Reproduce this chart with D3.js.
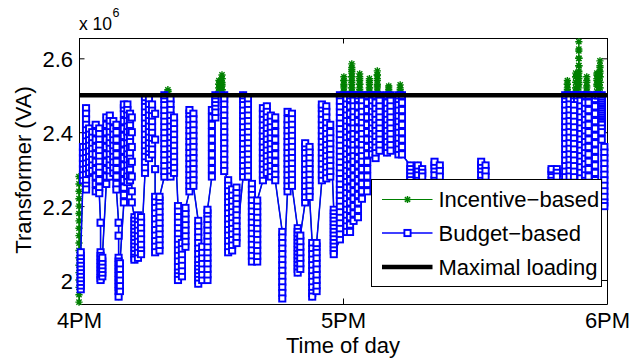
<!DOCTYPE html>
<html>
<head>
<meta charset="utf-8">
<script src="https://cdn.jsdelivr.net/npm/d3@7"></script>
<style>
  body { margin: 0; background: #fff; }
  text { font-family: "Liberation Sans", Arial, Helvetica, sans-serif; fill: #000; }
</style>
</head>
<body>
<div id="chart"></div>
<script>
// time in minutes after 4PM, load in units of 1e6 VA
// budget-based: [time, [values in drawing order]]
var budgetCols = [
  [0.4, [1.975, 1.985, 1.995, 2.005, 2.015, 2.025, 2.035, 2.045, 2.055, 2.065, 2.075]],
  [0.9, [2.27, 2.285, 2.30, 2.315, 2.33, 2.345, 2.36]],
  [1.6, [2.465, 2.45, 2.435, 2.42, 2.405, 2.39, 2.375, 2.36, 2.345, 2.33, 2.315, 2.30, 2.285, 2.27, 2.255, 2.245]],
  [2.3, [2.29, 2.305, 2.32, 2.335, 2.35, 2.365, 2.38, 2.395, 2.41]],
  [3.0, [2.40, 2.385, 2.37, 2.355, 2.34, 2.325, 2.31, 2.295]],
  [3.8, [2.24, 2.26, 2.28, 2.30, 2.32, 2.34, 2.36, 2.38, 2.40, 2.42]],
  [4.6, [2.41, 2.395, 2.38, 2.365, 2.35, 2.335, 2.32, 2.305, 2.29, 2.27, 2.25, 2.235]],
  [4.9, [2.155, 2.075, 2.065, 2.055, 2.045, 2.035, 2.025, 2.015, 2.005, 2.0]],
  [5.3, [2.01, 2.02, 2.03, 2.04, 2.05, 2.06]],
  [6.2, [2.26, 2.28, 2.30, 2.32, 2.34, 2.36, 2.38, 2.40, 2.42, 2.44]],
  [7.0, [2.445, 2.43, 2.415, 2.40, 2.385, 2.37, 2.355, 2.34, 2.325, 2.31, 2.295, 2.28]],
  [7.8, [2.29, 2.305, 2.32, 2.335, 2.35, 2.365, 2.38, 2.395, 2.41, 2.43]],
  [8.5, [2.42, 2.40, 2.38, 2.36, 2.34, 2.32, 2.30, 2.28, 2.26, 2.245]],
  [9.0, [2.155, 2.12, 2.06, 2.05, 2.04, 2.03, 2.02, 2.01, 2.0, 1.99, 1.98, 1.97, 1.955]],
  [9.3, [1.97, 1.985, 2.0, 2.015, 2.03, 2.045]],
  [10.2, [2.21, 2.23, 2.25, 2.27, 2.29, 2.31, 2.33, 2.35, 2.37, 2.39, 2.41, 2.43, 2.45, 2.465, 2.475]],
  [11.0, [2.475, 2.46, 2.445, 2.43, 2.415, 2.40, 2.385, 2.37, 2.355, 2.34, 2.325, 2.31, 2.295, 2.28, 2.265]],
  [11.6, [2.27, 2.285, 2.30, 2.315, 2.33, 2.345, 2.36, 2.375, 2.39, 2.405, 2.42, 2.435, 2.45]],
  [12.0, [2.44, 2.40, 2.36, 2.32, 2.28, 2.24, 2.21]],
  [12.6, [2.17, 2.16, 2.15, 2.14, 2.13, 2.12, 2.11, 2.10, 2.09, 2.08, 2.07, 2.06, 2.055]],
  [13.4, [2.06, 2.075, 2.09, 2.105, 2.12, 2.135, 2.15, 2.165, 2.175]],
  [14.1, [2.17, 2.155, 2.14, 2.125, 2.11, 2.095, 2.08, 2.07]],
  [15.0, [2.29, 2.305, 2.32, 2.335, 2.35, 2.365, 2.38, 2.395, 2.41, 2.425, 2.44, 2.455, 2.47, 2.485, 2.495]],
  [15.9, [2.49, 2.475, 2.46, 2.445, 2.43, 2.415, 2.40, 2.385, 2.37, 2.355, 2.34, 2.33]],
  [16.6, [2.34, 2.355, 2.37, 2.385, 2.40, 2.415, 2.43, 2.445, 2.46, 2.475]],
  [17.3, [2.45, 2.38, 2.30, 2.225, 2.21, 2.195, 2.18, 2.165, 2.15, 2.135, 2.12, 2.105, 2.09, 2.075]],
  [18.3, [2.08, 2.095, 2.11, 2.125, 2.14, 2.155, 2.17, 2.185, 2.20, 2.215, 2.225]],
  [19.4, [2.28, 2.295, 2.31, 2.325, 2.34, 2.355, 2.37, 2.385, 2.40, 2.415, 2.43, 2.445, 2.46, 2.475, 2.49, 2.50]],
  [20.8, [2.49, 2.475, 2.46, 2.445, 2.43, 2.415, 2.40, 2.385, 2.37, 2.355, 2.34, 2.325, 2.31, 2.295, 2.28]],
  [21.6, [2.29, 2.305, 2.32, 2.335, 2.35, 2.365, 2.38, 2.395, 2.41, 2.425, 2.44]],
  [22.5, [2.20, 2.185, 2.17, 2.155, 2.14, 2.125, 2.11, 2.095, 2.08, 2.065, 2.05, 2.035, 2.02, 2.01, 2.0]],
  [23.4, [2.01, 2.025, 2.04, 2.055, 2.07, 2.085, 2.10]],
  [24.2, [2.09, 2.105, 2.12, 2.135, 2.15, 2.165, 2.18, 2.195]],
  [25.1, [2.24, 2.255, 2.27, 2.285, 2.30, 2.315, 2.33, 2.345, 2.36, 2.375, 2.39, 2.405, 2.42, 2.435, 2.45, 2.46]],
  [26.0, [2.45, 2.435, 2.42, 2.405, 2.39, 2.375, 2.36, 2.345, 2.33, 2.315, 2.30, 2.285, 2.27, 2.255]],
  [27.1, [2.16, 2.145, 2.13, 2.115, 2.10, 2.085, 2.07, 2.055, 2.04, 2.03, 2.02, 2.01, 2.0, 1.99]],
  [28.0, [2.0, 2.015, 2.03, 2.045, 2.06, 2.075, 2.09]],
  [29.2, [2.0, 2.015, 2.03, 2.045, 2.06, 2.075, 2.09, 2.105, 2.12, 2.135, 2.15, 2.165, 2.18, 2.19]],
  [30.2, [2.28, 2.30, 2.32, 2.34, 2.36, 2.38, 2.40, 2.42, 2.44, 2.46]],
  [31.0, [2.44, 2.455, 2.47, 2.48, 2.49, 2.50]],
  [33.0, [2.50, 2.49, 2.475, 2.46, 2.445, 2.43, 2.415, 2.40, 2.385, 2.37, 2.355, 2.34, 2.325, 2.31, 2.295]],
  [33.9, [2.27, 2.255, 2.24, 2.225, 2.21, 2.195, 2.18, 2.165, 2.15, 2.135, 2.12, 2.105, 2.09, 2.075]],
  [34.8, [2.08, 2.095, 2.11, 2.125, 2.14, 2.155, 2.17, 2.185, 2.20, 2.215, 2.23, 2.245]],
  [35.8, [2.25, 2.235, 2.22, 2.205, 2.19, 2.175, 2.16, 2.145, 2.13, 2.115, 2.10]],
  [37.3, [2.28, 2.295, 2.31, 2.325, 2.34, 2.355, 2.37, 2.385, 2.40, 2.415, 2.43, 2.445, 2.46, 2.475, 2.49, 2.50]],
  [38.4, [2.49, 2.475, 2.46, 2.445, 2.43, 2.415, 2.40, 2.385, 2.37, 2.355, 2.34, 2.325, 2.31, 2.295, 2.28]],
  [39.3, [2.26, 2.245, 2.23, 2.215, 2.20, 2.185, 2.17, 2.155, 2.14, 2.125, 2.11, 2.095, 2.08, 2.065, 2.05]],
  [40.5, [2.05, 2.065, 2.08, 2.095, 2.11, 2.125, 2.14, 2.155, 2.17, 2.185, 2.20, 2.215]],
  [41.8, [2.27, 2.285, 2.30, 2.315, 2.33, 2.345, 2.36, 2.375, 2.39, 2.405, 2.42, 2.435, 2.45, 2.465]],
  [42.7, [2.47, 2.455, 2.44, 2.425, 2.41, 2.395, 2.38, 2.365, 2.35, 2.335, 2.32, 2.305, 2.29]],
  [43.6, [2.28, 2.295, 2.31, 2.325, 2.34, 2.355, 2.37, 2.385, 2.40, 2.415, 2.43, 2.445]],
  [44.6, [2.44, 2.42, 2.40, 2.38, 2.36, 2.34, 2.32, 2.30, 2.285, 2.27]],
  [46.2, [2.13, 2.115, 2.10, 2.085, 2.07, 2.055, 2.04, 2.025, 2.01, 1.995, 1.98, 1.965, 1.95]],
  [47.4, [2.24, 2.255, 2.27, 2.285, 2.30, 2.315, 2.33, 2.345, 2.36, 2.375, 2.39, 2.405, 2.42, 2.435, 2.455]],
  [48.4, [2.45, 2.435, 2.42, 2.405, 2.39, 2.375, 2.36, 2.345, 2.33, 2.315, 2.30, 2.285, 2.27, 2.255]],
  [49.7, [2.14, 2.13, 2.12, 2.11, 2.10, 2.09, 2.08, 2.07, 2.06, 2.05, 2.04, 2.03, 2.02]],
  [50.3, [2.03, 2.045, 2.06, 2.075, 2.09, 2.105, 2.12]],
  [51.4, [2.21, 2.225, 2.24, 2.255, 2.27, 2.285, 2.30, 2.315, 2.33, 2.345, 2.36, 2.37]],
  [52.4, [2.36, 2.345, 2.33, 2.315, 2.30, 2.285, 2.27, 2.255, 2.24, 2.225]],
  [53.0, [2.10, 2.085, 2.07, 2.055, 2.04, 2.025, 2.01, 1.995, 1.98, 1.965, 1.955]],
  [54.0, [1.97, 1.985, 2.0, 2.015, 2.03, 2.045, 2.06, 2.075, 2.09, 2.10]],
  [55.2, [2.27, 2.285, 2.30, 2.315, 2.33, 2.345, 2.36, 2.375, 2.39, 2.405, 2.42, 2.435, 2.45, 2.465, 2.475]],
  [56.2, [2.47, 2.455, 2.44, 2.425, 2.41, 2.395, 2.38, 2.365, 2.35, 2.335, 2.32, 2.305, 2.29, 2.275]],
  [57.1, [2.28, 2.295, 2.31, 2.325, 2.34, 2.355, 2.37, 2.385, 2.40, 2.42]],
  [57.9, [2.19, 2.18, 2.17, 2.16, 2.15, 2.14, 2.13, 2.12, 2.11, 2.10, 2.09, 2.08, 2.07]],
  [59.3, [2.11, 2.125, 2.14, 2.155, 2.17, 2.185, 2.20, 2.215, 2.23, 2.245, 2.26, 2.275, 2.29, 2.305, 2.32, 2.335, 2.35, 2.365, 2.38, 2.395, 2.41, 2.425, 2.44, 2.455, 2.47, 2.485, 2.50]],
  [60.8, [2.50, 2.49, 2.475, 2.46, 2.445, 2.43, 2.415, 2.40, 2.385, 2.37, 2.355, 2.34, 2.325, 2.31, 2.295, 2.28, 2.265, 2.25, 2.235, 2.22, 2.205, 2.19, 2.175, 2.16, 2.145, 2.13]],
  [61.6, [2.13, 2.15, 2.17, 2.19, 2.21, 2.23, 2.25, 2.27, 2.29, 2.31, 2.33, 2.35, 2.37, 2.39, 2.41, 2.43, 2.45, 2.47, 2.49, 2.50]],
  [62.4, [2.50, 2.485, 2.47, 2.455, 2.44, 2.425, 2.41, 2.395, 2.38, 2.365, 2.35, 2.335, 2.32, 2.30, 2.28, 2.26, 2.24, 2.22, 2.20, 2.18, 2.16]],
  [63.4, [2.17, 2.19, 2.21, 2.23, 2.25, 2.27, 2.29, 2.31, 2.33, 2.35, 2.37, 2.39, 2.41, 2.43, 2.45, 2.47, 2.49, 2.50]],
  [64.3, [2.50, 2.485, 2.47, 2.455, 2.44, 2.425, 2.41, 2.395, 2.38, 2.365, 2.35, 2.335, 2.32, 2.30, 2.28, 2.26, 2.24, 2.22]],
  [65.5, [2.24, 2.26, 2.28, 2.30, 2.32, 2.34, 2.36, 2.38, 2.40, 2.42, 2.44, 2.46, 2.48, 2.50]],
  [66.6, [2.50, 2.485, 2.47, 2.455, 2.44, 2.425, 2.41, 2.395, 2.38, 2.365, 2.35, 2.34]],
  [67.4, [2.33, 2.345, 2.36, 2.375, 2.39, 2.405, 2.42, 2.435, 2.45, 2.465, 2.48, 2.50]],
  [68.3, [2.50, 2.485, 2.47, 2.455, 2.44, 2.425, 2.41, 2.395, 2.38, 2.365, 2.35]],
  [70.0, [2.345, 2.36, 2.375, 2.39, 2.405, 2.42, 2.435, 2.45, 2.465, 2.48, 2.50]],
  [70.8, [2.50, 2.485, 2.47, 2.455, 2.44, 2.425, 2.41, 2.395, 2.38, 2.365, 2.35]],
  [72.6, [2.34, 2.355, 2.37, 2.385, 2.40, 2.415, 2.43, 2.445, 2.46, 2.475, 2.49, 2.50]],
  [73.4, [2.50, 2.48, 2.46, 2.44, 2.42, 2.40, 2.38, 2.36, 2.34]],
  [75.3, [2.31, 2.30, 2.29, 2.28, 2.27, 2.25, 2.20, 2.15]],
  [77.0, [2.15, 2.20, 2.25, 2.27, 2.285, 2.30, 2.31]],
  [78.0, [2.30, 2.29, 2.28, 2.26, 2.22]],
  [80.8, [2.22, 2.25, 2.27, 2.285, 2.30, 2.31, 2.32]],
  [82.0, [2.31, 2.295, 2.28, 2.25, 2.20, 2.15, 2.10]],
  [86.0, [2.10, 2.14, 2.18, 2.22]],
  [91.4, [2.20, 2.25, 2.27, 2.285, 2.30, 2.31, 2.32]],
  [92.4, [2.31, 2.295, 2.28, 2.25, 2.20, 2.15]],
  [100.0, [2.10, 2.15, 2.20]],
  [107.4, [2.20, 2.25, 2.27, 2.285, 2.295, 2.30]],
  [108.6, [2.30, 2.29, 2.28, 2.25, 2.20]],
  [110.5, [2.25, 2.265, 2.28, 2.295, 2.31, 2.325, 2.34, 2.355, 2.37, 2.385, 2.40, 2.415, 2.43, 2.445, 2.46, 2.475, 2.49, 2.50]],
  [111.5, [2.50, 2.49, 2.475, 2.46, 2.445, 2.43, 2.415, 2.40, 2.385, 2.37, 2.355, 2.34, 2.325, 2.31, 2.295, 2.28]],
  [112.5, [2.28, 2.295, 2.31, 2.325, 2.34, 2.355, 2.37, 2.385, 2.40, 2.415, 2.43, 2.445, 2.46, 2.475, 2.49, 2.50]],
  [113.2, [2.50, 2.49, 2.50]],
  [114.0, [2.50, 2.485, 2.47, 2.455, 2.44, 2.425, 2.41, 2.395, 2.38, 2.365, 2.35, 2.335, 2.32, 2.305, 2.29, 2.275, 2.26]],
  [115.0, [2.27, 2.285, 2.30, 2.315, 2.33, 2.345, 2.36, 2.375, 2.39, 2.405, 2.42, 2.435, 2.45, 2.465, 2.48, 2.50]],
  [115.8, [2.50, 2.48, 2.46, 2.44, 2.42, 2.40, 2.38, 2.36, 2.34, 2.32, 2.30, 2.28, 2.26]],
  [117.3, [2.25, 2.27, 2.29, 2.31, 2.33, 2.35, 2.37, 2.39, 2.41, 2.43, 2.45, 2.47, 2.49, 2.50]],
  [118.0, [2.50, 2.50]],
  [118.8, [2.50, 2.495, 2.49, 2.485, 2.48, 2.475, 2.47, 2.465, 2.46, 2.455, 2.45, 2.445, 2.44, 2.435, 2.43, 2.425, 2.42, 2.41, 2.40, 2.38]],
  [119.4, [2.36, 2.345, 2.33, 2.315, 2.30, 2.285, 2.27, 2.255, 2.24, 2.225, 2.21, 2.20]]
];

// incentive-based follows the budget-based curve except where it goes above the cap
var incentiveCols = [
  [0.0, [1.94, 1.96, 1.98, 2.0, 2.02, 2.04, 2.06, 2.08, 2.10, 2.12, 2.14, 2.16, 2.18, 2.20, 2.22, 2.24, 2.26, 2.28]],
  [20.2, [2.51, 2.515, 2.51]],
  [31.8, [2.51, 2.52, 2.53, 2.54, 2.53, 2.52, 2.51]],
  [32.5, [2.515, 2.525, 2.535, 2.545, 2.555, 2.545, 2.53, 2.515]],
  [60.2, [2.51, 2.52, 2.53, 2.54, 2.55, 2.54, 2.525, 2.51]],
  [62.0, [2.51, 2.52, 2.53, 2.54, 2.55, 2.56, 2.57, 2.585, 2.575, 2.565, 2.55, 2.535, 2.52, 2.51]],
  [63.8, [2.51, 2.52, 2.53, 2.54, 2.55, 2.558, 2.545, 2.53, 2.515]],
  [66.0, [2.51, 2.52, 2.53, 2.54, 2.545, 2.535, 2.52, 2.51]],
  [67.8, [2.51, 2.52, 2.53, 2.545, 2.555, 2.566, 2.555, 2.54, 2.525, 2.51]],
  [70.4, [2.51, 2.52, 2.525, 2.515]],
  [73.0, [2.51, 2.52, 2.528, 2.515]],
  [111.0, [2.51, 2.52, 2.53, 2.54, 2.53, 2.515]],
  [112.9, [2.51, 2.52, 2.535, 2.55, 2.56, 2.55, 2.535, 2.52]],
  [113.6, [2.52, 2.535, 2.55, 2.565, 2.58, 2.60, 2.62, 2.645, 2.625, 2.60, 2.58, 2.56, 2.545, 2.53]],
  [115.4, [2.51, 2.52, 2.535, 2.55, 2.54, 2.525, 2.51]],
  [117.7, [2.51, 2.525, 2.54, 2.555, 2.56, 2.545, 2.53]],
  [118.4, [2.52, 2.535, 2.55, 2.56, 2.575, 2.593, 2.58, 2.565, 2.55, 2.535, 2.52]]
];

var maxLoadTimes = [0, 120];
var maxLoadValues = [2.5, 2.5];

var xTicks = [0, 60, 120];
var xTickLabels = ['4PM', '5PM', '6PM'];
var yTicks = [2, 2.2, 2.4, 2.6];
var yTickLabels = ['2', '2.2', '2.4', '2.6'];

var seriesNames = ['Incentive\u2212based', 'Budget\u2212based', 'Maximal loading'];

var cfg = {
  w: 631, h: 358,
  left: 79, right: 607, top: 38, bottom: 304,
  tick: 5.5,
  font: 22,
  sq: 6.2
};

function flatten(cols) {
  var out = [];
  cols.forEach(function (c) {
    c[1].forEach(function (v) { out.push({ t: c[0], v: v }); });
  });
  return out;
}

var budget = flatten(budgetCols);
var incentive = flatten(incentiveCols.concat(budgetCols).sort(function (a, b) { return a[0] - b[0]; }));
var maxLoad = maxLoadTimes.map(function (t, i) { return { t: t, v: maxLoadValues[i] }; });

var x = d3.scaleLinear().domain([0, 120]).range([cfg.left, cfg.right]);
var y = d3.scaleLinear().domain([1.935, 2.655]).range([cfg.bottom, cfg.top]);

var svg = d3.select('#chart').append('svg')
  .attr('width', cfg.w)
  .attr('height', cfg.h);

// axes box with inward ticks
function styleAxis(g) {
  g.select('.domain').attr('stroke', '#000').attr('stroke-width', 1);
  g.selectAll('.tick line').attr('stroke', '#000');
  g.selectAll('.tick text').attr('font-size', cfg.font).attr('fill', '#000')
    .attr('font-family', '"Liberation Sans", Arial, sans-serif');
}

svg.append('g')
  .attr('transform', 'translate(0,' + cfg.bottom + ')')
  .call(d3.axisBottom(x).tickValues(xTicks).tickSizeInner(-cfg.tick).tickSizeOuter(0).tickPadding(8.5)
    .tickFormat(function (d, i) { return xTickLabels[i]; }))
  .call(styleAxis);

svg.append('g')
  .attr('transform', 'translate(0,' + cfg.top + ')')
  .call(d3.axisTop(x).tickValues(xTicks).tickSizeInner(-cfg.tick).tickSizeOuter(0).tickFormat(''))
  .call(styleAxis);

svg.append('g')
  .attr('transform', 'translate(' + cfg.left + ',0)')
  .call(d3.axisLeft(y).tickValues(yTicks).tickSizeInner(-cfg.tick).tickSizeOuter(0).tickPadding(6)
    .tickFormat(function (d, i) { return yTickLabels[i]; }))
  .call(styleAxis)
  .selectAll('.tick text').attr('dy', '0.38em');

svg.append('g')
  .attr('transform', 'translate(' + cfg.right + ',0)')
  .call(d3.axisRight(y).tickValues(yTicks).tickSizeInner(-cfg.tick).tickSizeOuter(0).tickFormat(''))
  .call(styleAxis);

var line = d3.line()
  .x(function (d) { return x(d.t); })
  .y(function (d) { return y(d.v); });

var starPath = 'M-3.6,0H3.6M0,-3.6V3.6M-2.6,-2.6L2.6,2.6M-2.6,2.6L2.6,-2.6';

// incentive-based (green, stars)
svg.append('path')
  .datum(incentive)
  .attr('d', line)
  .attr('fill', 'none')
  .attr('stroke', '#008000')
  .attr('stroke-width', 1.2);

svg.append('g').selectAll('path')
  .data(incentive)
  .enter()
  .append('path')
  .attr('transform', function (d) { return 'translate(' + x(d.t) + ',' + y(d.v) + ')'; })
  .attr('d', starPath)
  .attr('stroke', '#008000')
  .attr('stroke-width', 1.4)
  .attr('fill', 'none');

// budget-based (blue, squares)
svg.append('path')
  .datum(budget)
  .attr('d', line)
  .attr('fill', 'none')
  .attr('stroke', '#0000ff')
  .attr('stroke-width', 1.5);

svg.append('g').selectAll('rect')
  .data(budget)
  .enter()
  .append('rect')
  .attr('x', function (d) { return x(d.t) - cfg.sq / 2; })
  .attr('y', function (d) { return y(d.v) - cfg.sq / 2; })
  .attr('width', cfg.sq)
  .attr('height', cfg.sq)
  .attr('fill', '#fff')
  .attr('stroke', '#0000ff')
  .attr('stroke-width', 1.9);

// maximal loading
svg.append('path')
  .datum(maxLoad)
  .attr('d', line)
  .attr('fill', 'none')
  .attr('stroke', '#000')
  .attr('stroke-width', 4.5);

// exponent label
svg.append('text')
  .attr('x', cfg.left)
  .attr('y', 30)
  .attr('font-size', 17.5)
  .text('x 10');
svg.append('text')
  .attr('x', 112.5)
  .attr('y', 17)
  .attr('font-size', 12.5)
  .text('6');

// axis titles
svg.append('text')
  .attr('transform', 'translate(31,170) rotate(-90)')
  .attr('text-anchor', 'middle')
  .attr('font-size', cfg.font)
  .text('Transformer (VA)');

svg.append('text')
  .attr('x', x(60))
  .attr('y', 353)
  .attr('text-anchor', 'middle')
  .attr('font-size', cfg.font)
  .text('Time of day');

// legend
var lg = svg.append('g').attr('transform', 'translate(371.5,179.5)');
lg.append('rect')
  .attr('width', 230)
  .attr('height', 107)
  .attr('fill', '#fff')
  .attr('stroke', '#000')
  .attr('stroke-width', 1);

var rowY = [20, 53.5, 87.5];
var rowColor = ['#008000', '#0000ff', '#000'];
var rowWidth = [1.2, 1.5, 4.5];

seriesNames.forEach(function (name, i) {
  var row = lg.append('g').attr('transform', 'translate(0,' + rowY[i] + ')');
  row.append('line')
    .attr('x1', 10.5).attr('x2', 61)
    .attr('stroke', rowColor[i])
    .attr('stroke-width', rowWidth[i]);
  if (i === 0) {
    row.append('path')
      .attr('transform', 'translate(36,0)')
      .attr('d', starPath)
      .attr('stroke', '#008000')
      .attr('stroke-width', 1.4)
      .attr('fill', 'none');
  } else if (i === 1) {
    row.append('rect')
      .attr('x', 36 - cfg.sq / 2).attr('y', -cfg.sq / 2)
      .attr('width', cfg.sq).attr('height', cfg.sq)
      .attr('fill', '#fff')
      .attr('stroke', '#0000ff')
      .attr('stroke-width', 1.9);
  }
  row.append('text')
    .attr('x', 67)
    .attr('y', 7.5)
    .attr('font-size', cfg.font)
    .text(name);
});
</script>
</body>
</html>
